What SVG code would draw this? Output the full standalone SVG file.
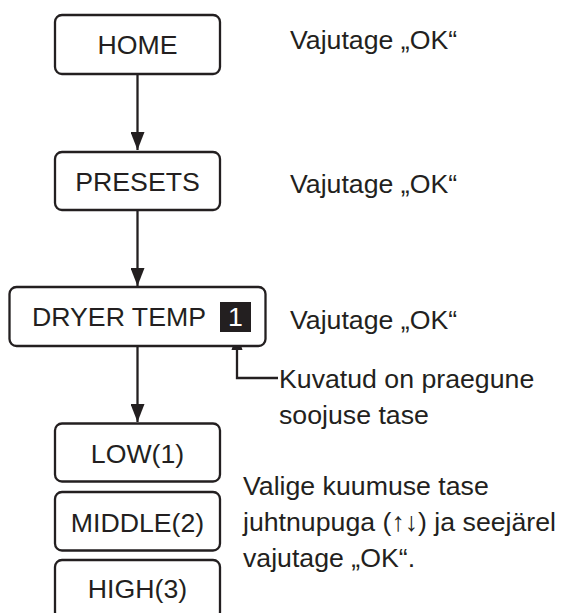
<svg xmlns="http://www.w3.org/2000/svg" width="562" height="613" viewBox="0 0 562 613">
  <defs>
    <style>
      .box { fill: #ffffff; stroke: #231f20; stroke-width: 2.3; }
      .t { font-family: "Liberation Sans", Arial, sans-serif; font-size: 26.7px; fill: #231f20; }
      .c { text-anchor: middle; }
      .ln { fill: none; stroke: #231f20; stroke-width: 2.3; }
    </style>
    <marker id="ah" viewBox="0 -7 18 14" refX="18" refY="0" markerWidth="18" markerHeight="14" markerUnits="userSpaceOnUse" orient="auto">
      <path d="M0,-7 L18,0 L0,7 Z" fill="#231f20"/>
    </marker>
    <marker id="ahs" viewBox="0 -6 17 12" refX="17" refY="0" markerWidth="17" markerHeight="12" markerUnits="userSpaceOnUse" orient="auto">
      <path d="M0,-5.5 L17,0 L0,5.5 Z" fill="#231f20"/>
    </marker>
  </defs>
  <rect width="562" height="613" fill="#ffffff"/>

  <g id="connectors">
    <line class="ln" x1="137.5" y1="74" x2="137.5" y2="150" marker-end="url(#ah)"/>
    <line class="ln" x1="137.5" y1="210" x2="137.5" y2="286" marker-end="url(#ah)"/>
    <line class="ln" x1="137.5" y1="346" x2="137.5" y2="422" marker-end="url(#ah)"/>
    <path class="ln" d="M278,378 H237 V333" marker-end="url(#ahs)"/>
  </g>

  <g id="home">
    <rect class="box" x="55" y="15" width="165" height="59" rx="7"/>
    <text class="t c" x="137.5" y="54">HOME</text>
  </g>
  <text class="t" x="290" y="49">Vajutage „OK“</text>

  <g id="presets">
    <rect class="box" x="55" y="152" width="165" height="58" rx="7"/>
    <text class="t c" x="137.5" y="191">PRESETS</text>
  </g>
  <text class="t" x="290" y="193">Vajutage „OK“</text>

  <g id="dryer-temp">
    <rect class="box" x="9.5" y="287" width="256" height="59" rx="7"/>
    <text class="t" x="32" y="326">DRYER TEMP</text>
    <rect x="220" y="302" width="31" height="30" fill="#231f20"/>
    <text class="t c" x="235.5" y="326" style="fill:#ffffff">1</text>
  </g>
  <text class="t" x="290" y="329">Vajutage „OK“</text>

  <text class="t" x="279" y="388">Kuvatud on praegune</text>
  <text class="t" x="279" y="424">soojuse tase</text>

  <g id="low">
    <rect class="box" x="55" y="423.5" width="165" height="58" rx="7"/>
    <text class="t c" x="137.5" y="463">LOW(1)</text>
  </g>
  <g id="middle">
    <rect class="box" x="55" y="492" width="165" height="58.5" rx="7"/>
    <text class="t c" x="137.5" y="532">MIDDLE(2)</text>
  </g>
  <g id="high">
    <rect class="box" x="55" y="560" width="165" height="59" rx="7"/>
    <text class="t c" x="137.5" y="598">HIGH(3)</text>
  </g>

  <text class="t" x="243" y="495">Valige kuumuse tase</text>
  <text class="t" x="243" y="531">juhtnupuga (↑↓) ja seejärel</text>
  <text class="t" x="243" y="567">vajutage „OK“.</text>
</svg>
